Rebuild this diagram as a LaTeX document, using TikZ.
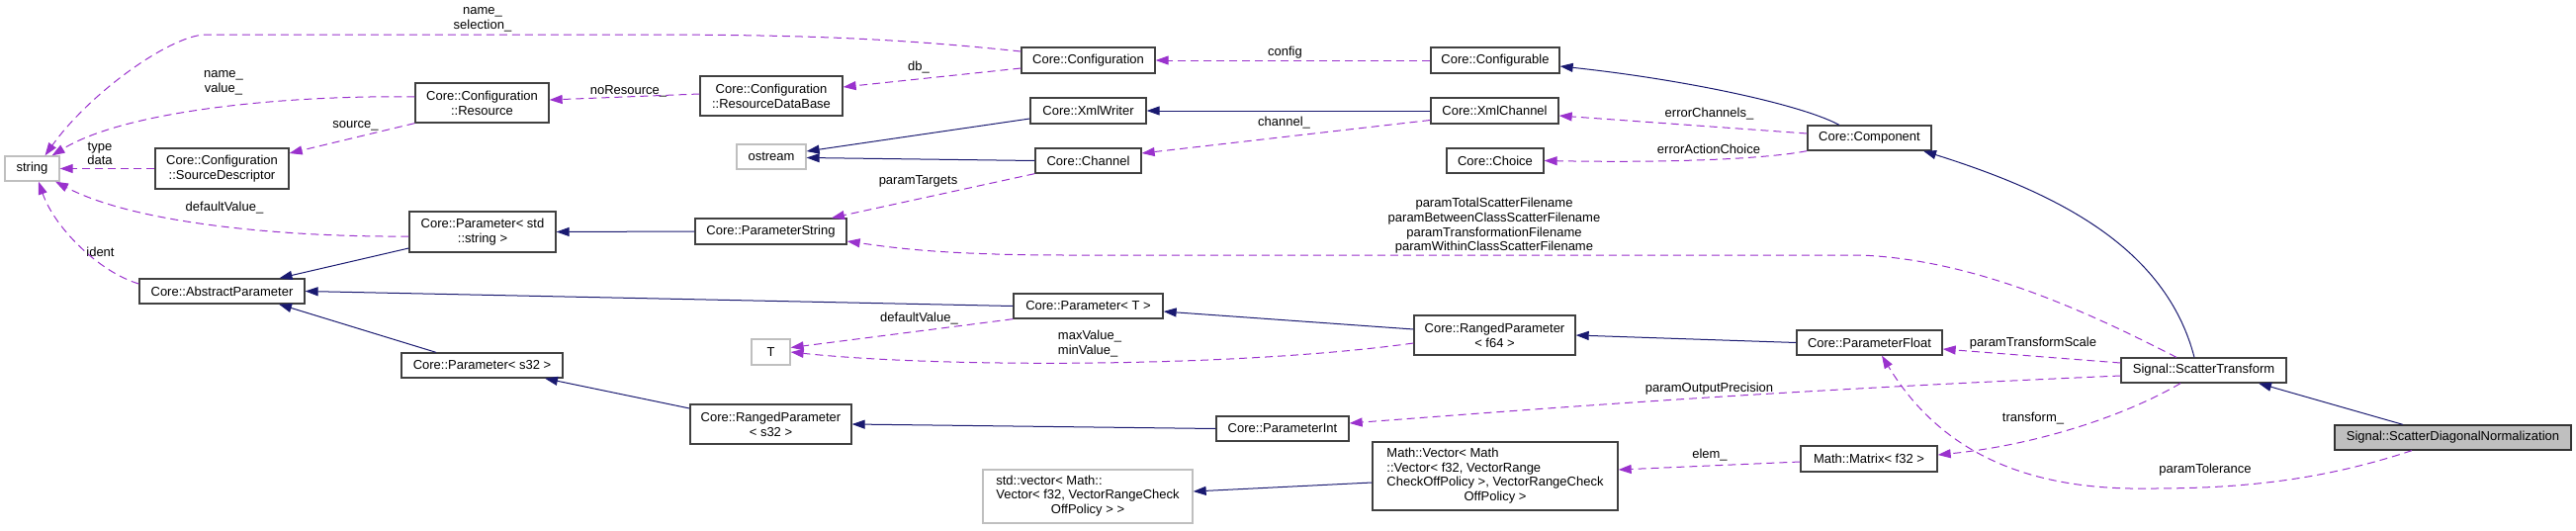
\documentclass[tikz,border=0pt]{standalone}
\usepackage{fontspec}
\setmainfont{Liberation Sans}
\usetikzlibrary{arrows.meta}
\definecolor{dxblue}{HTML}{191970}
\definecolor{dxpurple}{HTML}{9A32CD}
\newcommand\dxfont{\fontsize{13}{14.7}\selectfont}

\begin{document}
\begin{tikzpicture}[
  x=1pt, y=-1pt,
  font=\dxfont,
  cls/.style={draw=black!75, line width=1.3pt, inner sep=0pt, align=center},
  ext/.style={cls, draw=black!25},
  focus/.style={cls, fill=black!25, draw=black!80},
  sz/.style 2 args={minimum width=#1, minimum height=#2},
  lbl/.style={inner sep=0pt, align=center},
  inh/.style={-{Triangle[length=13pt, width=9pt]}, draw=dxblue, line width=1pt},
  use/.style={-{Triangle[length=13pt, width=9pt]}, draw=dxpurple, line width=1pt,
              dash pattern=on 8pt off 5pt},
]
\useasboundingbox (0,0) rectangle (2605,536);

% classes
\node[ext, sz={55}{25}]   (str)       at (32.5,170.5)  {string};
\node[cls, sz={135}{41}]  (srcDesc)   at (224.5,170.5) {Core::Configuration\\::SourceDescriptor};
\node[cls, sz={167}{25}]  (absPar)    at (224.5,294.5) {Core::AbstractParameter};
\node[cls, sz={135}{40}]  (cfgRes)    at (487.5,104)   {Core::Configuration\\::Resource};
\node[cls, sz={148}{41}]  (parStd)    at (488,234.5)   {Core::Parameter< std\\::string >};
\node[cls, sz={163}{25}]  (parS32)    at (487.5,369.5) {Core::Parameter< s32 >};
\node[cls, sz={144}{40}]  (resDb)     at (780,97)      {Core::Configuration\\::ResourceDataBase};
\node[ext, sz={70}{25}]   (ostrm)     at (780,158.5)   {ostream};
\node[cls, sz={153}{26}]  (parString) at (779.5,234)   {Core::ParameterString};
\node[ext, sz={39}{26}]   (tT)        at (779.5,356)   {T};
\node[cls, sz={163}{40}]  (rngS32)    at (779.5,429)   {Core::RangedParameter\\< s32 >};
\node[cls, sz={135}{26}]  (cfg)       at (1100.5,61)   {Core::Configuration};
\node[cls, sz={117}{26}]  (xmlW)      at (1100.5,112)  {Core::XmlWriter};
\node[cls, sz={107}{25}]  (chan)      at (1100.5,162.5) {Core::Channel};
\node[cls, sz={151}{25}]  (parT)      at (1100.5,309.5) {Core::Parameter< T >};
\node[ext, sz={212}{54}]  (stdVec)    at (1100,502)
  {\begin{tabular}{@{}l@{}}std::vector< Math::\\Vector< f32, VectorRangeCheck\\
   \multicolumn{1}{@{}c@{}}{OffPolicy > >}\end{tabular}};
\node[cls, sz={134}{25}]  (parInt)    at (1297,433.5)  {Core::ParameterInt};
\node[cls, sz={130}{26}]  (cfgbl)     at (1512,61)     {Core::Configurable};
\node[cls, sz={129}{26}]  (xmlCh)     at (1511.5,112)  {Core::XmlChannel};
\node[cls, sz={98}{25}]   (choice)    at (1512,162.5)  {Core::Choice};
\node[cls, sz={163}{40}]  (rngF64)    at (1511.5,339)  {Core::RangedParameter\\< f64 >};
\node[cls, sz={248}{69}]  (mathVec)   at (1512,481.5)
  {\begin{tabular}{@{}l@{}}Math::Vector< Math\\::Vector< f32, VectorRange\\
   CheckOffPolicy >, VectorRangeCheck\\\multicolumn{1}{@{}c@{}}{OffPolicy >}\end{tabular}};
\node[cls, sz={125}{25}]  (comp)      at (1890.5,139.5) {Core::Component};
\node[cls, sz={147}{25}]  (parFloat)  at (1890.5,346.5) {Core::ParameterFloat};
\node[cls, sz={138}{26}]  (matrix)    at (1890,464)    {Math::Matrix< f32 >};
\node[cls, sz={167}{25}]  (scatT)     at (2228.5,374.5) {Signal::ScatterTransform};
\node[focus, sz={239}{25}] (scatDN)   at (2480.5,442.5) {Signal::ScatterDiagonalNormalization};

% member labels
\node[lbl] (lSel)    at (488,19.5)    {name\_\\selection\_};
\node[lbl] (lVal)    at (226,83.5)    {name\_\\value\_};
\node[lbl] (lData)   at (101,155.5)   {type\\data};
\node[lbl] (lSrc)    at (359.5,127)   {source\_};
\node[lbl] (lDefStr) at (227,210)     {defaultValue\_};
\node[lbl] (lIdent)  at (101.5,255)   {ident};
\node[lbl] (lNoRes)  at (635.5,92)    {noResource\_};
\node[lbl] (lDb)     at (929,68)      {db\_};
\node[lbl] (lCfg)    at (1299.5,53)   {config};
\node[lbl] (lChan)   at (1298.5,124)  {channel\_};
\node[lbl] (lTgt)    at (928.5,183)   {paramTargets};
\node[lbl] (lErrCh)  at (1728.5,115)  {errorChannels\_};
\node[lbl] (lErrAc)  at (1728,151)    {errorActionChoice};
\node[lbl] (lFiles)  at (1511,228.5)
  {paramTotalScatterFilename\\paramBetweenClassScatterFilename\\
   paramTransformationFilename\\paramWithinClassScatterFilename};
\node[lbl] (lDefT)   at (929.5,322)   {defaultValue\_};
\node[lbl, align=left] (lMinMax) at (1102,347.5) {maxValue\_\\minValue\_};
\node[lbl] (lScale)  at (2056,347)    {paramTransformScale};
\node[lbl] (lPrec)   at (1728.5,393)  {paramOutputPrecision};
\node[lbl] (lTrans)  at (2056,423)    {transform\_};
\node[lbl] (lElem)   at (1729,460)    {elem\_};
\node[lbl] (lTol)    at (2230,475)    {paramTolerance};

% inheritance
\draw[inh] ([yshift=-8]xmlW.west) -- ([yshift=5.5]ostrm.east);
\draw[inh] (chan.west) -- ([yshift=-1]ostrm.east);
\draw[inh] (xmlCh.west) -- (xmlW.east);
\draw[inh] (parString.west) -- (parStd.east);
\draw[inh] ([yshift=-16.5]parStd.west) -- ([xshift=58]absPar.north);
\draw[inh] (parT.west) -- (absPar.east);
\draw[inh] ([xshift=-46.5]parS32.north) -- ([xshift=57.5]absPar.south);
\draw[inh] ([yshift=16]rngS32.west) -- ([xshift=63.5]parS32.south);
\draw[inh] (parInt.west) -- (rngS32.east);
\draw[inh] ([yshift=6]rngF64.west) -- ([yshift=-5.5]parT.east);
\draw[inh] (parFloat.west) -- (rngF64.east);
\draw[inh] ([yshift=-6.5]mathVec.west) -- ([yshift=5]stdVec.east);
\draw[inh] ([xshift=-30.5]comp.north) .. controls (1820,105) and (1700,80) .. ([yshift=-6]cfgbl.east);
\draw[inh] ([xshift=-9.5]scatT.north) .. controls (2190,250) and (2080,195) .. ([xshift=54.5]comp.south);
\draw[inh] ([xshift=-50.5]scatDN.north) -- ([xshift=55.5]scatT.south);

% usage
\draw[use] ([yshift=9]cfg.west) .. controls (900,38) and (800,35) .. (640,35)
        -- (207,35) .. controls (170,37) and (90,95) .. ([xshift=13]str.north);
\draw[use] ([yshift=6]cfgRes.west) .. controls (300,96) and (130,110) .. ([xshift=20]str.north);
\draw[use] (srcDesc.west) -- (str.east);
\draw[use] (cfgRes.south west) -- ([yshift=15.5]srcDesc.east);
\draw[use] ([yshift=-4.5]parStd.west) .. controls (300,240) and (140,228) .. ([xshift=23.5]str.south);
\draw[use] ([yshift=7.5]absPar.west) .. controls (100,275) and (55,230) .. ([xshift=6.5]str.south);
\draw[use] ([yshift=2]resDb.west) -- ([yshift=3]cfgRes.east);
\draw[use] ([yshift=-8]cfg.west) -- ([yshift=9]resDb.east);
\draw[use] (cfgbl.west) -- (cfg.east);
\draw[use] ([yshift=-9.5]xmlCh.west) -- ([yshift=7.5]chan.east);
\draw[use] ([yshift=4.5]comp.west) -- ([yshift=-5]xmlCh.east);
\draw[use] (comp.south west) .. controls (1790,160) and (1700,165) .. (choice.east);
\draw[use] (chan.south west) -- ([xshift=61.5]parString.north);
\draw[use] ([xshift=-27.5]scatT.north) .. controls (2120,320) and (2000,262) .. (1880,258)
        -- (1080,258) .. controls (950,258) and (900,250) .. ([yshift=-10]parString.east);
\draw[use] (parT.south west) -- ([yshift=4.5]tT.east);
\draw[use] ([yshift=-8]rngF64.west) .. controls (1250,372) and (950,372) .. (tT.east);
\draw[use] ([yshift=7.5]scatT.west) -- ([yshift=-6.5]parFloat.east);
\draw[use] ([yshift=-5.5]scatT.west) .. controls (1800,395) and (1600,410) .. ([yshift=5.5]parInt.east);
\draw[use] ([xshift=-23.5]scatT.south) .. controls (2150,420) and (2060,450) .. ([yshift=4]matrix.east);
\draw[use] ([yshift=-3]matrix.west) -- ([yshift=6.5]mathVec.east);
\draw[use] ([xshift=-41.5]scatDN.south) .. controls (2350,485) and (2270,494) .. (2176,494)
        .. controls (2070,496) and (1970,470) .. ([xshift=12.5]parFloat.south);

\end{tikzpicture}
\end{document}
